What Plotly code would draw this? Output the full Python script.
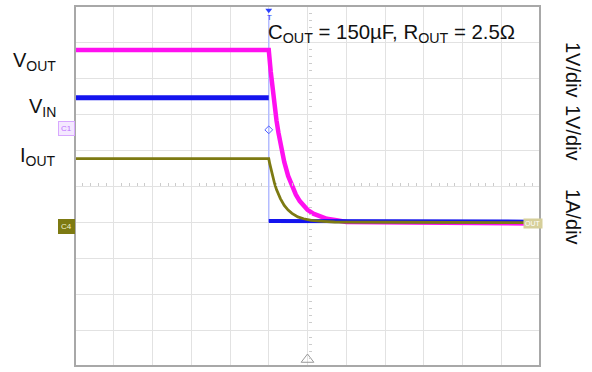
import plotly.graph_objects as go

FONT = "Liberation Sans, Arial, sans-serif"

# Time axis in divisions (12 horizontal divisions), levels in divisions (zero level at 0)
vout_t = [0.0, 5.0, 5.05, 5.1, 5.15, 5.2, 5.25, 5.3, 5.35, 5.4, 5.5, 5.6, 5.7, 5.8, 5.9,
          6.0, 6.15, 6.3, 6.5, 6.75, 7.0, 11.74]
vout_v = [4.78, 4.78, 4.19, 3.67, 3.22, 2.82, 2.48, 2.17, 1.90, 1.67, 1.28, 0.99, 0.76, 0.58, 0.45,
          0.34, 0.23, 0.16, 0.09, 0.05, 0.0, -0.04]

vin_t_high = [0.0, 5.0]
vin_v_high = [3.45, 3.45]
vin_t_low = [5.0, 11.74]
vin_v_low = [0.03, 0.01]

iout_t = [0.0, 5.0, 5.025, 5.05, 5.1, 5.15, 5.2, 5.3, 5.4, 5.5, 5.6, 5.75, 5.9, 6.1, 6.4, 6.7, 11.74]
iout_v = [1.76, 1.76, 1.62, 1.49, 1.26, 1.07, 0.90, 0.65, 0.46, 0.33, 0.24, 0.14, 0.09, 0.045, 0.02, 0.0, -0.02]

trigger_t = 5.0
trigger_level = 2.56
edge_v = [5.75, 0.0]

MAGENTA = "#ff10f0"
BLUE = "#1414ee"
OLIVE = "#7d7a12"

fig = go.Figure()
fig.add_trace(go.Scatter(x=[trigger_t, trigger_t], y=edge_v, mode="lines",
                         line=dict(color="#b4bcff", width=1.5), hoverinfo="skip"))
fig.add_trace(go.Scatter(x=vout_t, y=vout_v, mode="lines", line=dict(color=MAGENTA, width=4.5)))
fig.add_trace(go.Scatter(x=vin_t_high, y=vin_v_high, mode="lines", line=dict(color=BLUE, width=5)))
fig.add_trace(go.Scatter(x=vin_t_low, y=vin_v_low, mode="lines", line=dict(color=BLUE, width=4)))
fig.add_trace(go.Scatter(x=iout_t, y=iout_v, mode="lines", line=dict(color=OLIVE, width=2.8)))
fig.add_trace(go.Scatter(x=[trigger_t], y=[trigger_level], mode="markers",
                         marker=dict(symbol="diamond-open", size=6, color="#5060ff", line=dict(width=1)),
                         cliponaxis=False))
fig.add_trace(go.Scatter(x=[6.0], y=[-3.82], mode="markers",
                         marker=dict(symbol="triangle-up-open", size=11, color="#999999", line=dict(width=1)),
                         cliponaxis=False))
fig.add_trace(go.Scatter(x=[trigger_t], y=[5.88], mode="markers",
                         marker=dict(symbol="triangle-down", size=6, color="#2a40ff"),
                         cliponaxis=False))

fig.update_layout(
    width=592, height=372,
    margin=dict(l=75, r=52, t=6, b=6),
    paper_bgcolor="white", plot_bgcolor="white",
    showlegend=False,
    font=dict(family=FONT, size=20, color="#111111"),
    xaxis=dict(range=[0, 12], dtick=1, tick0=0, showgrid=True, gridcolor="#e2e2e2", gridwidth=1,
               zeroline=False, showticklabels=False, anchor="free", position=0.5,
               showline=False, ticks="", minor=dict(dtick=0.2, ticks="inside", ticklen=3,
                                                      tickcolor="#cccccc", showgrid=False)),
    yaxis=dict(range=[-4, 6], dtick=1, tick0=0, showgrid=True, gridcolor="#e2e2e2", gridwidth=1,
               zeroline=False, showticklabels=False, anchor="free", position=0.5,
               showline=False, ticks="", minor=dict(dtick=0.2, ticks="inside", ticklen=3,
                                                      tickcolor="#cccccc", showgrid=False)),
)

fig.add_shape(type="rect", xref="paper", yref="paper", x0=0, x1=1, y0=0, y1=1,
              line=dict(color="#a8a8a8", width=2), layer="above")

def ann(text, x, y, **kw):
    d = dict(text=text, x=x, y=y, xref="paper", yref="paper", showarrow=False,
             font=dict(family=FONT, size=20, color="#111111"))
    d.update(kw)
    fig.add_annotation(**d)

def px(xp):
    return (xp - 75) / 465.0

def py(yp):
    return (366 - yp) / 360.0

ann("V<sub>OUT</sub>", px(58), py(61), xanchor="right", yanchor="middle")
ann("V<sub>IN</sub>", px(58), py(107), xanchor="right", yanchor="middle")
ann("I<sub>OUT</sub>", px(58), py(157), xanchor="right", yanchor="middle")
ann("C<sub>OUT</sub> = 150µF, R<sub>OUT</sub> = 2.5Ω", px(266), py(34), xanchor="left", yanchor="middle",
    font=dict(family=FONT, size=20.4, color="#111111"))

ann("1V/div", px(573), py(70), textangle=90, xanchor="center", yanchor="middle")
ann("1V/div", px(573), py(133), textangle=90, xanchor="center", yanchor="middle")
ann("1A/div", px(573), py(217), textangle=90, xanchor="center", yanchor="middle")

# scope markers
ann("T", px(269), py(17), font=dict(family=FONT, size=8, color="#2a40ff"), xanchor="center", yanchor="middle")
ann("C1", px(66), py(128), font=dict(family=FONT, size=8, color="#c070ff"),
    bgcolor="#f4e8ff", bordercolor="#d8a8ff", borderwidth=1, borderpad=2,
    xanchor="center", yanchor="middle")
ann("C4", px(66), py(226), font=dict(family=FONT, size=8, color="#f0f0d0"),
    bgcolor=OLIVE, bordercolor=OLIVE, borderwidth=1, borderpad=2,
    xanchor="center", yanchor="middle")
ann("OUT", px(533), py(223), font=dict(family=FONT, size=7, color="#ffffff"),
    bgcolor="#d6cf9a", borderpad=1, xanchor="center", yanchor="middle")

fig.write_html("out.html")
